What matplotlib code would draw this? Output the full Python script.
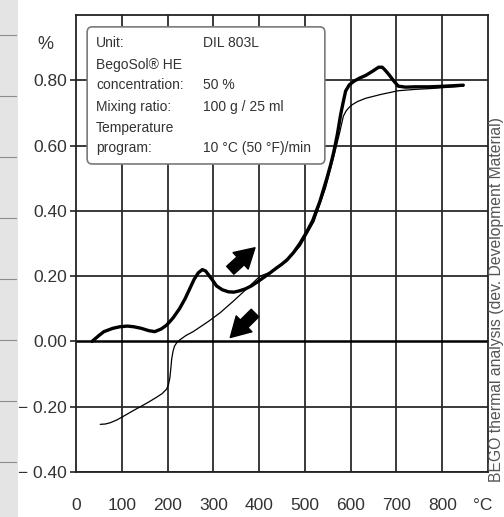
import matplotlib
matplotlib.use("Agg")
import matplotlib.pyplot as plt
from matplotlib.patches import FancyBboxPatch, Rectangle
from matplotlib.lines import Line2D

# ---------------- data ----------------
heat_T = [35, 50, 61, 80, 96, 112, 126, 143, 159, 172, 186, 198, 212, 226, 238, 248, 258, 267, 276,
          283, 289, 298, 307, 320, 333, 345, 357, 370, 383, 396, 409, 423, 437, 449, 461, 475, 489,
          503, 517, 533, 548, 556, 563, 571, 578, 584, 589, 597, 607, 620, 633, 647, 661, 669, 676,
          685, 693, 704, 720, 741, 770, 791, 820, 846]
heat_v = [0.000, 0.018, 0.030, 0.040, 0.045, 0.047, 0.045, 0.040, 0.033, 0.030, 0.038, 0.050, 0.072,
          0.100, 0.130, 0.160, 0.190, 0.210, 0.220, 0.216, 0.205, 0.188, 0.170, 0.158, 0.152, 0.151,
          0.155, 0.161, 0.170, 0.182, 0.195, 0.209, 0.224, 0.236, 0.250, 0.272, 0.300, 0.333, 0.370,
          0.430, 0.500, 0.540, 0.580, 0.635, 0.694, 0.735, 0.767, 0.786, 0.797, 0.807, 0.815, 0.827,
          0.840, 0.840, 0.830, 0.815, 0.800, 0.782, 0.779, 0.780, 0.780, 0.781, 0.783, 0.785]

cool_T = [53, 64, 75, 90, 104, 125, 147, 162, 176, 188, 198, 202, 205, 207, 209, 212, 215, 220, 227,
          240, 256, 290, 315, 345, 372, 402, 430, 460, 490, 520, 545, 562, 576, 584, 590, 596, 602,
          615, 633, 650, 667, 704, 740, 778, 846]
cool_v = [-0.254, -0.253, -0.249, -0.240, -0.229, -0.212, -0.195, -0.183, -0.171, -0.160, -0.146,
          -0.132, -0.112, -0.085, -0.054, -0.030, -0.015, -0.004, 0.005, 0.018, 0.030, 0.062, 0.088,
          0.125, 0.160, 0.200, 0.215, 0.245, 0.293, 0.368, 0.470, 0.560, 0.640, 0.690, 0.706, 0.716,
          0.724, 0.735, 0.745, 0.751, 0.757, 0.768, 0.772, 0.775, 0.782]

x_ticks = [0, 100, 200, 300, 400, 500, 600, 700, 800]
x_tick_labels = ["0", "100", "200", "300", "400", "500", "600", "700", "800"]
y_ticks = [-0.40, -0.20, 0.00, 0.20, 0.40, 0.60, 0.80]
y_tick_labels = ["\u2212 0.40", "\u2212 0.20", "0.00", "0.20", "0.40", "0.60", "0.80"]

info_keys = ["Unit:", "BegoSol\u00ae HE", "concentration:", "Mixing ratio:", "Temperature", "program:"]
info_vals = ["DIL 803L", "", "50 %", "100 g / 25 ml", "", "10 \u00b0C (50 \u00b0F)/min"]

up_arrow = [(337, 0.218), (391, 0.287)]
down_arrow = [(391, 0.087), (337, 0.012)]

side_text = "BEGO thermal analysis (dev. Development Material)"

# ---------------- figure ----------------
FONT = ["Liberation Sans", "DejaVu Sans"]

fig = plt.figure(figsize=(5.04, 5.17), dpi=100)
fig.patch.set_facecolor("white")

# left grey strip (page artefact)
fig.patches.append(Rectangle((0, 0), 18 / 504, 1, transform=fig.transFigure,
                             facecolor="#e4e4e4", edgecolor="none", zorder=-10))
for py in [35, 96, 157, 218, 279, 340, 401, 462]:
    fig.lines.append(Line2D([0, 16 / 504], [1 - py / 517, 1 - py / 517], transform=fig.transFigure,
                            color="#8c8c8c", lw=0.8, zorder=-9))

ax = fig.add_axes([76 / 504, 45 / 517, 412 / 504, 457 / 517])
ax.set_facecolor("none")
ax.set_xlim(0, 900)
ax.set_ylim(-0.40, 1.0)

# grid
for xv in x_ticks[1:]:
    ax.axvline(xv, color="#2a2a2a", lw=1.3, zorder=1)
for yv in y_ticks:
    if yv == 0:
        ax.axhline(yv, color="black", lw=1.8, zorder=1)
    else:
        ax.axhline(yv, color="#2a2a2a", lw=1.3, zorder=1)

for s in ax.spines.values():
    s.set_linewidth(1.3)
    s.set_color("#222222")

ax.set_xticks(x_ticks + [888])
ax.set_xticklabels(x_tick_labels + ["\u00b0C"], family=FONT, fontsize=12.5, color="#333333")
ax.set_yticks(y_ticks)
ax.set_yticklabels(y_tick_labels, family=FONT, fontsize=12.5, color="#333333")
ax.tick_params(axis="x", length=0, pad=19)
ax.tick_params(axis="y", direction="out", length=4, width=1.2, pad=2.5, color="#222222")

ax.text(-0.075, 0.935, "%", transform=ax.transAxes, family=FONT, fontsize=13,
        color="#333333", ha="center", va="center")

# info box
box = FancyBboxPatch((0.027, 0.674), 0.577, 0.300, transform=ax.transAxes,
                     boxstyle="round,pad=0,rounding_size=0.012", facecolor="white",
                     edgecolor="#7a7a7a", lw=1.2, zorder=3)
ax.add_patch(box)
rows_y = [0.939, 0.891, 0.847, 0.799, 0.753, 0.709]
for yk, k, v in zip(rows_y, info_keys, info_vals):
    ax.text(0.0485, yk, k, transform=ax.transAxes, family=FONT, fontsize=10,
            color="#333333", ha="left", va="center", zorder=4)
    if v:
        ax.text(0.308, yk, v, transform=ax.transAxes, family=FONT, fontsize=10,
                color="#333333", ha="left", va="center", zorder=4)

# curves
ax.plot(cool_T, cool_v, color="black", lw=0.9, zorder=5, solid_capstyle="round")
ax.plot(heat_T, heat_v, color="black", lw=2.4, zorder=6, solid_capstyle="round",
        solid_joinstyle="round")

# arrows
for tail, head in [up_arrow, down_arrow]:
    ax.annotate("", xy=head, xytext=tail,
                arrowprops=dict(arrowstyle="simple,head_length=1.0,head_width=1.15,tail_width=0.55",
                                color="black", mutation_scale=14, shrinkA=0, shrinkB=0),
                zorder=7)

fig.text(497 / 504, 1 - 482 / 517, side_text, rotation=90, family=FONT, fontsize=11.3,
         color="#555555", ha="center", va="bottom")

fig.savefig("out.png", dpi=100)
